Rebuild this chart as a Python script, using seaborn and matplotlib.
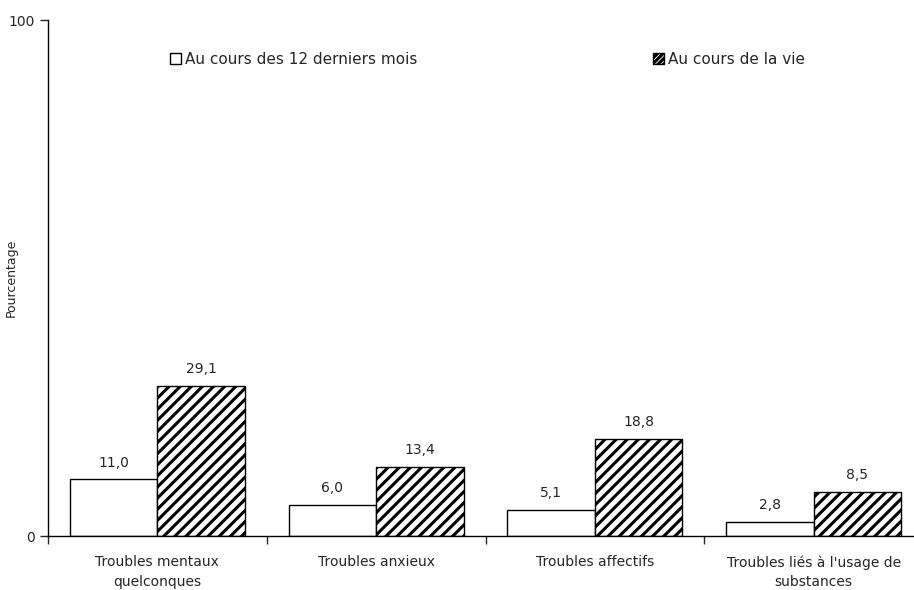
import pandas as pd
import numpy as np
import matplotlib
matplotlib.use("Agg")
import matplotlib.pyplot as plt
import seaborn as sns
from matplotlib.patches import Patch

categories = ["Troubles mentaux\nquelconques", "Troubles anxieux",
              "Troubles affectifs", "Troubles liés à l'usage de\nsubstances"]
series = ["Au cours des 12 derniers mois", "Au cours de la vie"]
douze_mois = [11.0, 6.0, 5.1, 2.8]
vie = [29.1, 13.4, 18.8, 8.5]

df = pd.DataFrame({
    "cat": categories * 2,
    "serie": [series[0]] * 4 + [series[1]] * 4,
    "val": douze_mois + vie,
})

sns.set_style("ticks")
plt.rcParams["font.family"] = ["DejaVu Sans"]
plt.rcParams["hatch.linewidth"] = 2.2

fig = plt.figure(figsize=(9.14, 5.9), dpi=100)
ax = fig.add_axes([48 / 914, 1 - 536 / 590, 875 / 914, 516 / 590])

sns.barplot(data=df, x="cat", y="val", hue="serie", order=categories,
            hue_order=series, palette=["white", "white"], edgecolor="black",
            linewidth=1.0, width=0.8, ax=ax, legend=False)

for p in ax.containers[1]:
    p.set_hatch("///")

for cont, vals in zip(ax.containers, [douze_mois, vie]):
    ax.bar_label(cont, labels=[f"{v:.1f}".replace(".", ",") for v in vals],
                 padding=7, fontsize=10)

ax.set_xlim(-0.5, 3.5)
ax.set_ylim(0, 100)
ax.set_yticks([0, 100])
ax.tick_params(axis="y", labelsize=10, length=6, width=1, direction="out")
ax.set_xticks(range(4))
ax.set_xticklabels(categories, fontsize=10, linespacing=1.5)
ax.tick_params(axis="x", length=0, pad=14)
ax.set_xticks([-0.5, 0.5, 1.5, 2.5], minor=True)
ax.tick_params(axis="x", which="minor", length=6, width=1, direction="out")
ax.set_xlabel("")
ax.set_ylabel("Pourcentage", fontsize=9)
ax.yaxis.set_label_coords(-30 / 875, 0.5)
for s in ["top", "right"]:
    ax.spines[s].set_visible(False)
for s in ["left", "bottom"]:
    ax.spines[s].set_linewidth(1)
    ax.spines[s].set_color("black")

fig.legend(handles=[Patch(facecolor="white", edgecolor="black")],
           labels=[series[0]], loc="center left", bbox_to_anchor=(170 / 914, 1 - 59 / 590),
           frameon=False, fontsize=11, handlelength=0.7, handleheight=0.7,
           handletextpad=0.25, borderpad=0, borderaxespad=0)
fig.legend(handles=[Patch(facecolor="white", edgecolor="black", hatch="//////")],
           labels=[series[1]], loc="center left", bbox_to_anchor=(653 / 914, 1 - 59 / 590),
           frameon=False, fontsize=11, handlelength=0.7, handleheight=0.7,
           handletextpad=0.25, borderpad=0, borderaxespad=0)

fig.savefig("out.png", dpi=100)
